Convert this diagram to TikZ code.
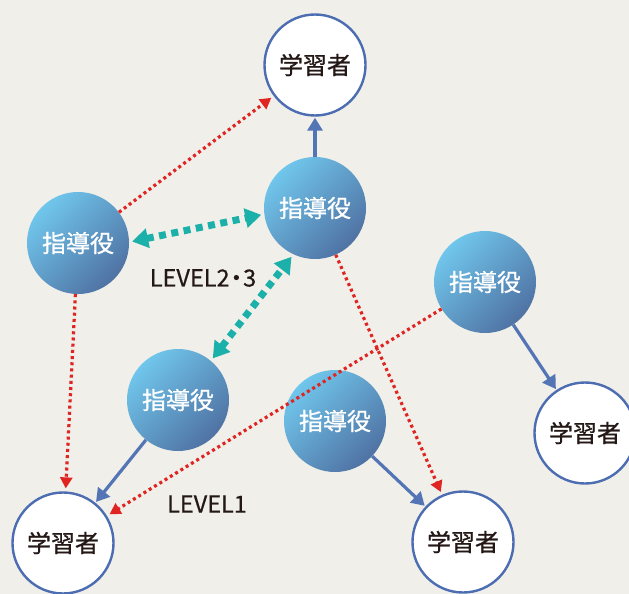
\documentclass[tikz,border=0pt]{standalone}
\usepackage{fontspec}
\newfontfamily\jp[FakeBold=0.9]{Noto Sans CJK JP}
\newfontfamily\jplbl[FakeBold=0.6]{Noto Sans CJK JP}
\usetikzlibrary{arrows.meta}
\definecolor{bg}{HTML}{F0EFE9}
\definecolor{lborder}{HTML}{4D6DB2}
\definecolor{glight}{HTML}{70C6EC}
\definecolor{gdark}{HTML}{4F72A3}
\definecolor{solidblue}{HTML}{5475B5}
\definecolor{reddot}{HTML}{E02422}
\definecolor{teal}{HTML}{1CB0AA}
\definecolor{txt}{HTML}{231815}
\tikzset{
  learner/.style={circle, draw=lborder, line width=2.4pt, fill=white, minimum size=101pt, inner sep=0pt, font=\jp\fontsize{24}{24}\selectfont, text=txt},
  guide/.style={circle, top color=glight, bottom color=gdark, shading angle=45, minimum size=102pt, inner sep=0pt, font=\jp\fontsize{24}{24}\selectfont, text=white},
  solidarrow/.style={draw=solidblue, line width=3.2pt, -{Triangle[length=13pt,width=15pt]}, shorten >=1pt},
  redarrow/.style={draw=reddot, line width=3.2pt, dash pattern=on 3pt off 3.2pt, -{Triangle[length=11pt,width=12pt]}, shorten >=3pt},
  tealarrow/.style={draw=teal, line width=7pt, dash pattern=on 7pt off 5.5pt, {Triangle[length=16pt,width=19pt]}-{Triangle[length=16pt,width=19pt]}, shorten >=3pt, shorten <=3pt},
  lbl/.style={font=\jplbl\fontsize{23.5}{23.5}\selectfont, text=txt, inner sep=0pt}
}
\begin{document}
\begin{tikzpicture}[x=1pt,y=-1pt]
\fill[bg] (0,0) rectangle (629,594);
\useasboundingbox (0,0) rectangle (629,594);
% learners
\node[learner] (l1) at (315,65) {学習者};
\node[learner] (l2) at (63,543) {学習者};
\node[learner] (l3) at (463,542) {学習者};
\node[learner] (l4) at (585,433) {学習者};
% guides
\node[guide] (g1) at (78,243) {指導役};
\node[guide] (g2) at (315,208) {指導役};
\node[guide] (g3) at (485,282) {指導役};
\node[guide] (g4) at (178,400) {指導役};
\node[guide] (g5) at (335,421) {指導役};
% labels
\node[lbl] (lv23) at (203,278) {LEVEL2\kern-5pt・\kern-5pt3};
\node[lbl] (lv1) at (207,504) {LEVEL1};
% solid arrows
\draw[solidarrow] (g2) -- (l1);
\draw[solidarrow] (g4) -- (l2);
\draw[solidarrow] (g5) -- (l3);
\draw[solidarrow] (g3) -- (l4);
% red dotted
\draw[redarrow] (g1) -- (l1);
\draw[redarrow] (g1) -- (l2);
\draw[redarrow] (g2) -- (l3);
\draw[redarrow] (g3) -- (l2);
% teal
\draw[tealarrow] (g1.1) -- (g2.187);
\draw[tealarrow] (g4.50) -- (g2.245);
\end{tikzpicture}
\end{document}
